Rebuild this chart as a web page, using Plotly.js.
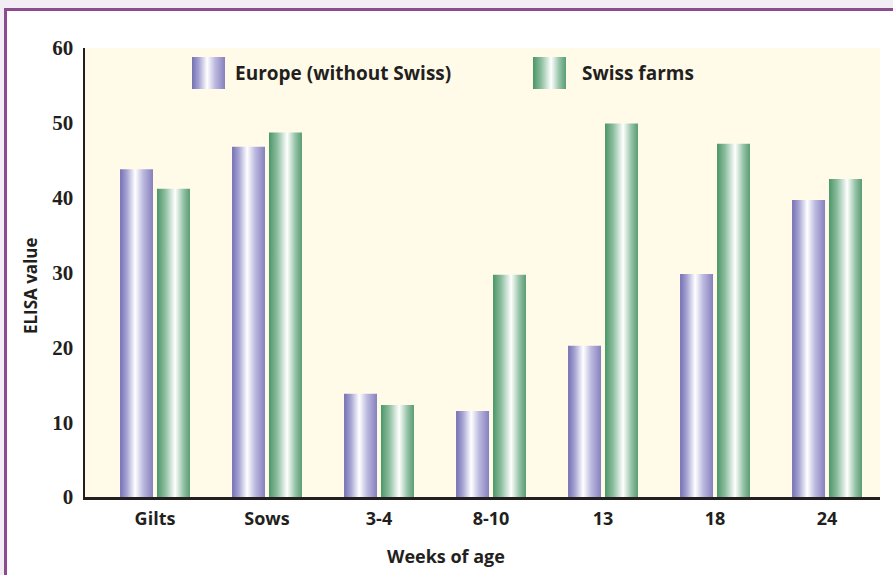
<!DOCTYPE html>
<html><head><meta charset="utf-8">
<script src="https://cdn.plot.ly/plotly-3.0.1.min.js"></script>
<style>
html,body{margin:0;padding:0;background:#f2edf4;width:893px;height:575px;overflow:hidden;}
#frame{position:absolute;left:4px;top:8px;width:900px;height:600px;background:#fff;border-top:3px solid #8c4b8d;border-left:3px solid #8c4b8d;}
#chart{position:absolute;left:0;top:0;width:893px;height:575px;}
</style></head><body>
<div id="frame"></div><div id="chart"></div>
<script>
const categories = ['Gilts', 'Sows', '3-4', '8-10', '13', '18', '24'];
const europeValues = [43.8, 46.8, 13.8, 11.5, 20.2, 29.8, 39.7];
const swissValues = [41.2, 48.7, 12.3, 29.7, 49.9, 47.2, 42.5];
const seriesNames = ['Europe (without Swiss)', 'Swiss farms'];
const yTickValues = [0, 10, 20, 30, 40, 50, 60];
const xTitle = 'Weeks of age';
const yTitle = 'ELISA value';

const purpleBase = 'rgb(126, 121, 185)';
const greenBase = 'rgb(79, 153, 108)';
const textColor = '#231f20';
const sansFont = '"Open Sans", Lato, sans-serif';

const traces = [
  {type: 'bar', x: categories, y: europeValues, name: seriesNames[0],
   marker: {color: purpleBase, line: {width: 0}}, showlegend: false, hoverinfo: 'skip'},
  {type: 'bar', x: categories, y: swissValues, name: seriesNames[1],
   marker: {color: greenBase, line: {width: 0}}, showlegend: false, hoverinfo: 'skip'}
];

const layout = {
  width: 893, height: 575,
  margin: {l: 85, r: 13, t: 48, b: 78, pad: 0},
  paper_bgcolor: 'rgba(0,0,0,0)',
  plot_bgcolor: '#fffbe8',
  barmode: 'group', bargap: 0.34, bargroupgap: 0.108,
  showlegend: false,
  xaxis: {
    type: 'category', range: [-0.625, 6.473], showgrid: false, zeroline: false,
    showline: true, linecolor: textColor, linewidth: 2.5, ticks: '',
    tickfont: {family: sansFont, size: 18, weight: 'bold', color: textColor},
    ticklabelstandoff: 4, fixedrange: true
  },
  yaxis: {
    range: [0, 60], tickvals: yTickValues, showgrid: false, zeroline: false,
    showline: true, linecolor: textColor, linewidth: 2.5, ticks: '',
    tickfont: {family: '"Liberation Serif", "DejaVu Serif", serif', size: 21, weight: 'bold', color: textColor},
    ticklabelstandoff: 5, fixedrange: true
  },
  shapes: [
    {type: 'rect', xref: 'paper', yref: 'paper', x0: 0.1346, x1: 0.1761, y0: 0.9087, y1: 0.98,
     fillcolor: purpleBase, line: {width: 0}, layer: 'above'},
    {type: 'rect', xref: 'paper', yref: 'paper', x0: 0.5635, x1: 0.605, y0: 0.9087, y1: 0.98,
     fillcolor: greenBase, line: {width: 0}, layer: 'above'}
  ],
  annotations: [
    {xref: 'paper', yref: 'paper', x: 0.1867, y: 0.9443, xanchor: 'left', yanchor: 'middle',
     text: seriesNames[0], showarrow: false, font: {family: sansFont, size: 19, weight: 'bold', color: textColor}},
    {xref: 'paper', yref: 'paper', x: 0.6232, y: 0.9443, xanchor: 'left', yanchor: 'middle',
     text: seriesNames[1], showarrow: false, font: {family: sansFont, size: 19, weight: 'bold', color: textColor}},
    {xref: 'paper', yref: 'paper', x: 0.454, y: -0.132, xanchor: 'center', yanchor: 'middle',
     text: xTitle, showarrow: false, font: {family: sansFont, size: 18, weight: 'bold', color: textColor}},
    {xref: 'paper', yref: 'paper', x: -0.0692, y: 0.472, xanchor: 'center', yanchor: 'middle', textangle: -90,
     text: yTitle, showarrow: false, font: {family: sansFont, size: 17, weight: 'bold', color: textColor}}
  ]
};

const gradientDefs = {
  gradEurope: [[0, '#7570b3'], [0.2, '#a5a2d2'], [0.46, '#ffffff'], [0.7, '#bcb9df'], [1, '#8580bf']],
  gradSwiss: [[0, '#4a9668'], [0.25, '#8dbe9f'], [0.55, '#ffffff'], [0.8, '#94c2a5'], [1, '#579c73']]
};
const NS = 'http://www.w3.org/2000/svg';

function applyGradients(gd) {
  const svg = gd.querySelector('.main-svg');
  if (!svg) return;
  let defs = svg.querySelector('defs');
  if (!defs) { defs = document.createElementNS(NS, 'defs'); svg.insertBefore(defs, svg.firstChild); }
  Object.keys(gradientDefs).forEach(id => {
    if (svg.querySelector('#' + id)) return;
    const g = document.createElementNS(NS, 'linearGradient');
    g.setAttribute('id', id);
    g.setAttribute('x1', '0'); g.setAttribute('x2', '1'); g.setAttribute('y1', '0'); g.setAttribute('y2', '0');
    gradientDefs[id].forEach(([o, c]) => {
      const s = document.createElementNS(NS, 'stop');
      s.setAttribute('offset', o); s.setAttribute('stop-color', c);
      g.appendChild(s);
    });
    defs.appendChild(g);
  });
  const ids = ['gradEurope', 'gradSwiss'];
  gd.querySelectorAll('.barlayer .trace').forEach((t, i) => {
    t.querySelectorAll('path').forEach(p => { p.style.fill = 'url(#' + ids[i] + ')'; });
  });
  gd.querySelectorAll('.shapelayer path').forEach(p => {
    const f = p.style.fill;
    if (f === purpleBase) p.style.fill = 'url(#gradEurope)';
    else if (f === greenBase) p.style.fill = 'url(#gradSwiss)';
  });
}

const gd = document.getElementById('chart');
Plotly.newPlot(gd, traces, layout, {staticPlot: true, displayModeBar: false}).then(() => {
  applyGradients(gd);
  gd.on('plotly_afterplot', () => applyGradients(gd));
});
</script>
</body></html>
